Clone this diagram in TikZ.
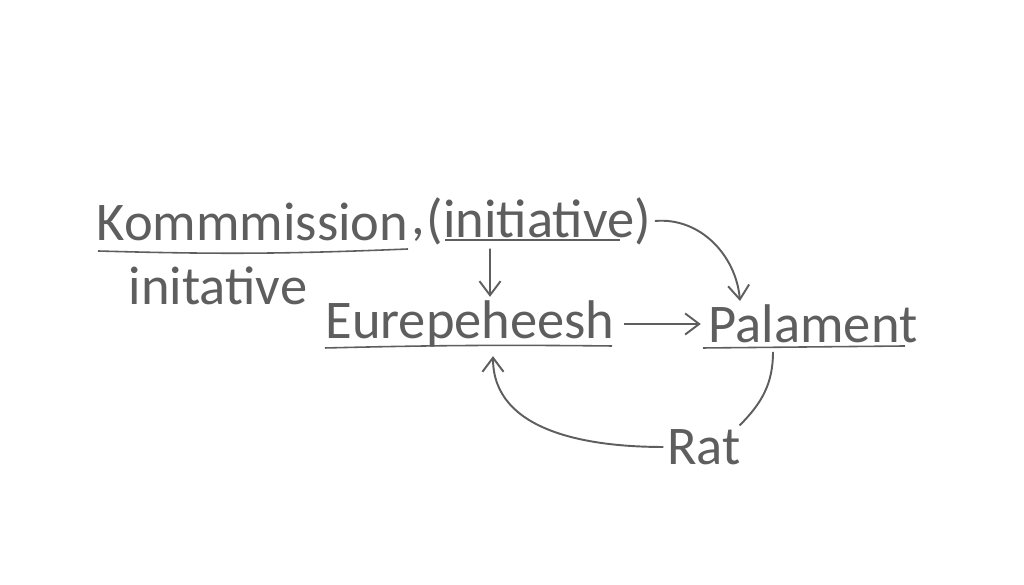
\documentclass[tikz,border=0pt]{standalone}
\usepackage{fontspec}
\setmainfont{Carlito}
\usetikzlibrary{arrows.meta}
\definecolor{pencil}{HTML}{5E5E5E}
\begin{document}
\begin{tikzpicture}[
    word/.style={text=pencil, inner sep=2pt, font=\fontsize{31}{37}\selectfont},
    uline/.style={draw=pencil, line width=0.9pt},
    arr/.style={draw=pencil, line width=1.1pt, -{Straight Barb[length=8pt,width=12pt]}},
    link/.style={draw=pencil, line width=1.1pt}
]
    \useasboundingbox (0, 0) rectangle (20.48, 11.7);
    \fill[white] (0, 0) rectangle (20.48, 11.7);

    \node[word] (komm) at (5.05, 7.26) {Kommmission};
    \node[word, inner sep=0pt] (comma) at (8.36, 7.0) {,};
    \node[word] (init) at (10.78, 7.28) {(initiative)};
    \node[word] (initative) at (4.36, 5.98) {initative};
    \node[word] (eur) at (9.4, 5.22) {Eurepeheesh};
    \node[word] (pal) at (16.26, 5.22) {Palament};
    \node[word] (rat) at (14.08, 2.76) {Rat};

    % underlines
    \draw[uline] (1.96, 6.68) to[bend right=2] (8.16, 6.72);
    \draw[uline] (8.9, 6.9) -- (12.4, 6.9);
    \draw[uline] (6.5, 4.74) to[bend left=1] (12.24, 4.78);
    \draw[uline] (14.06, 4.74) -- (18.1, 4.78);

    % connectors
    \draw[arr] ([xshift=-0.98cm]init.south) -- ([xshift=0.4cm]eur.north);
    \draw[arr] (init.east) to[out=5, in=95] ([xshift=-1.46cm]pal.north);
    \draw[arr] ([xshift=0.12cm]eur.east) -- ([xshift=-0.08cm]pal.west);
    \draw[link] ([xshift=-0.8cm, yshift=-0.1cm]pal.south) to[out=-90, in=45] ([xshift=-0.1cm]rat.north east);
    \draw[arr] (rat.west) to[out=180, in=-90] ([xshift=0.46cm, yshift=-0.1cm]eur.south);
\end{tikzpicture}
\end{document}
